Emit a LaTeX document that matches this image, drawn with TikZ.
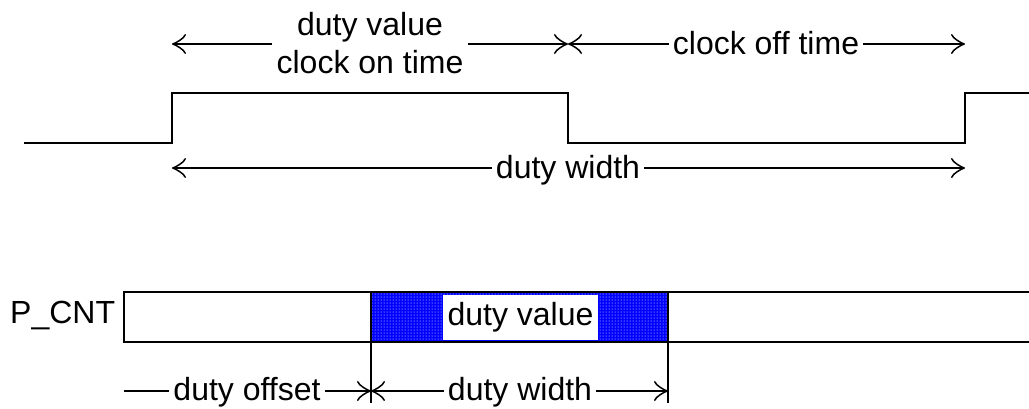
\documentclass[tikz,border=0pt]{standalone}
\usepackage{fontspec}
\setmainfont{Liberation Sans}
\usetikzlibrary{arrows.meta,patterns}
\begin{document}
\begin{tikzpicture}[x=1pt,y=-1pt,
  lbl/.style={font=\fontsize{32}{38}\selectfont, inner xsep=4pt, inner ysep=0pt, anchor=base},
  wave/.style={line width=2pt, line join=miter},
  plain/.style={line width=1.4pt},
  arr/.style={line width=1.4pt, -{Classical TikZ Rightarrow[length=14pt,width=20pt,line width=1.5pt]}},
  box/.style={line width=1.8pt}]
\useasboundingbox (0,0) rectangle (1029,408);
% waveform
\coordinate (w0) at (24,143);
\coordinate (r1b) at (172,143);
\coordinate (r1t) at (172,93);
\coordinate (f1t) at (568,93);
\coordinate (f1b) at (568,143);
\coordinate (r2b) at (965,143);
\coordinate (r2t) at (965,93);
\coordinate (w9) at (1031,93);
\draw[wave] (w0) -- (r1b) -- (r1t) -- (f1t) -- (f1b) -- (r2b) -- (r2t) -- (w9);
% top arrows
\coordinate (a0) at (172,44);
\coordinate (a1) at (568,44);
\coordinate (a2) at (965,44);
\node[lbl] (on1) at (370,35) {duty value};
\node[lbl] (on2) at (370,73) {clock on time};
\draw[arr] (on2.west |- a0) -- (a0);
\draw[arr] (on2.east |- a0) -- (a1);
\node[lbl] (off) at (766,54) {clock off time};
\draw[arr] (off.west |- a1) -- (a1);
\draw[arr] (off.east |- a1) -- (a2);
% duty width (top)
\coordinate (b0) at (172,168);
\coordinate (b1) at (965,168);
\node[lbl] (dw) at (568,178) {duty width};
\draw[arr] (dw.west |- b0) -- (b0);
\draw[arr] (dw.east |- b0) -- (b1);
% P_CNT register
\node[lbl, anchor=base west] (pc) at (6,323) {P\_CNT};
\coordinate (bx0) at (124,292);
\coordinate (bx1) at (124,342);
\coordinate (bxTR) at (1031,292);
\coordinate (bxBR) at (1031,342);
\coordinate (blTL) at (371,292);
\coordinate (blBR) at (668,342);
\fill[blue] (blTL) rectangle (blBR);
\fill[pattern=dots, pattern color=white] (blTL) rectangle (blBR);
\node[fill=white, minimum width=155pt, minimum height=45pt, inner sep=0pt,
      font=\fontsize{32}{38}\selectfont] (dv) at (520.5,317.5) {duty value};
\draw[box] (bxTR) -- (bx0) -- (bx1) -- (bxBR);
% markers
\coordinate (v1b) at (371,403);
\coordinate (v2b) at (668,403);
\draw[box] (blTL) -- (v1b);
\draw[box] (blBR |- blTL) -- (v2b);
% bottom arrows
\coordinate (c0) at (124,391);
\coordinate (c1) at (371,391);
\coordinate (c2) at (668,391);
\node[lbl] (doff) at (247,400) {duty offset};
\draw[plain] (c0) -- (doff.west |- c0);
\draw[arr] (doff.east |- c0) -- (c1);
\node[lbl] (dw2) at (520,400) {duty width};
\draw[arr] (dw2.west |- c1) -- (c1);
\draw[arr] (dw2.east |- c1) -- (c2);
\end{tikzpicture}
\end{document}
